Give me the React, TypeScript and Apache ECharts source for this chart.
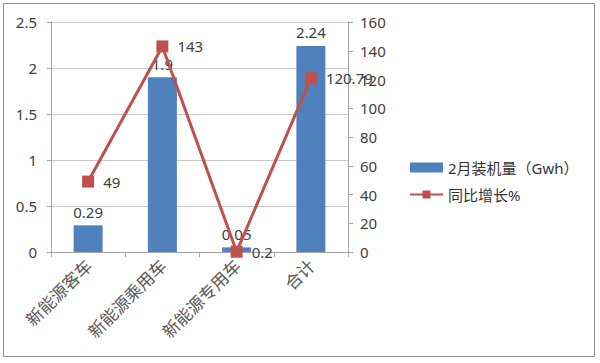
import React, { useEffect, useRef } from "react";
import * as echarts from "echarts";

const categories = ["新能源客车", "新能源乘用车", "新能源专用车", "合计"];
const installed = [0.29, 1.9, 0.05, 2.24];
const growth = [49, 143, 0.2, 120.79];
const barName = "2月装机量（Gwh）";
const lineName = "同比增长%";

export default function App() {
  const ref = useRef<HTMLDivElement>(null);
  useEffect(() => {
    if (!ref.current) return;
    const chart = echarts.init(ref.current, null, { renderer: "svg" });
    const font = "'Noto Sans', 'Noto Sans CJK SC', sans-serif";
    chart.setOption({
      animation: false,
      backgroundColor: "#fff",
      textStyle: { fontFamily: font },
      graphic: [
        {
          type: "rect",
          shape: { x: 3.5, y: 3.5, width: 591, height: 353 },
          style: { fill: "none", stroke: "#8c8c8c", lineWidth: 1 },
          silent: true,
        },
      ],
      grid: { left: 51, right: 252, top: 22, bottom: 111 },
      legend: {
        orient: "vertical",
        left: 404,
        top: 155,
        itemGap: 12,
        itemWidth: 33,
        itemHeight: 10,
        textStyle: { fontSize: 15, color: "#333", fontFamily: font },
        data: [
          { name: barName, icon: "rect" },
          { name: lineName },
        ],
      },
      xAxis: {
        type: "category",
        data: categories,
        axisLine: { lineStyle: { color: "#a6a6a6" } },
        axisTick: { show: true, length: 5, lineStyle: { color: "#a6a6a6" } },
        axisLabel: {
          rotate: 45,
          fontSize: 17,
          color: "#595959",
          margin: 10,
          fontFamily: "'Noto Sans CJK SC', sans-serif",
        },
      },
      yAxis: [
        {
          type: "value",
          min: 0,
          max: 2.5,
          interval: 0.5,
          axisLine: { show: true, lineStyle: { color: "#a6a6a6" } },
          axisTick: { show: true, length: 4, lineStyle: { color: "#a6a6a6" } },
          axisLabel: { fontSize: 15, color: "#404040", margin: 14 },
          splitLine: { lineStyle: { color: "#c8c8c8" } },
        },
        {
          type: "value",
          min: 0,
          max: 160,
          interval: 20,
          axisLine: { show: true, lineStyle: { color: "#a6a6a6" } },
          axisTick: { show: true, length: 5, lineStyle: { color: "#a6a6a6" } },
          axisLabel: { fontSize: 15, color: "#404040", margin: 12 },
          splitLine: { show: false },
        },
      ],
      series: [
        {
          name: barName,
          type: "bar",
          data: installed,
          barWidth: 29,
          itemStyle: { color: "#4F81BD" },
          label: {
            show: true,
            position: "top",
            distance: 6,
            fontSize: 15,
            color: "#404040",
          },
        },
        {
          name: lineName,
          type: "line",
          yAxisIndex: 1,
          data: growth,
          symbol: "rect",
          symbolSize: 12,
          itemStyle: { color: "#C0504D" },
          lineStyle: { color: "#C0504D", width: 3 },
          label: {
            show: true,
            position: "right",
            distance: 9,
            fontSize: 15,
            color: "#404040",
          },
          z: 3,
        },
      ],
    });
    return () => chart.dispose();
  }, []);
  return (
    <div
      ref={ref}
      style={{ position: "fixed", left: 0, top: 0, width: 600, height: 363 }}
    />
  );
}
